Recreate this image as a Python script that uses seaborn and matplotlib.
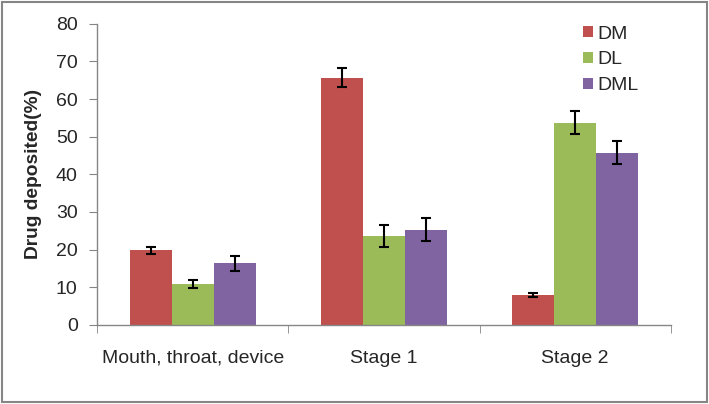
import pandas as pd
import matplotlib
matplotlib.use("Agg")
import matplotlib.pyplot as plt
import seaborn as sns
from matplotlib.patches import Rectangle

stages = ["Mouth, throat, device", "Stage 1", "Stage 2"]
formulations = ["DM", "DL", "DML"]
dm_mean = [19.8, 65.7, 8.0]
dl_mean = [10.9, 23.7, 53.7]
dml_mean = [16.3, 25.3, 45.8]
dm_err = [1.0, 2.6, 0.5]
dl_err = [1.0, 2.9, 3.0]
dml_err = [1.9, 3.1, 3.1]
colors = ["#C0504D", "#9BBB59", "#8064A2"]

rows = []
for f, means, errs in zip(formulations, [dm_mean, dl_mean, dml_mean], [dm_err, dl_err, dml_err]):
    for s, m, e in zip(stages, means, errs):
        rows.append({"stage": s, "formulation": f, "value": m, "err": e})
df = pd.DataFrame(rows)

sns.set_style("white")
plt.rcParams["font.family"] = ["Liberation Sans", "DejaVu Sans"]

fig = plt.figure(figsize=(7.09, 4.04), dpi=100)
ax = fig.add_axes([0.137, 0.196, 0.809, 0.745])

sns.barplot(data=df, x="stage", y="value", hue="formulation", order=stages,
            hue_order=formulations, palette=colors, width=0.66, errorbar=None,
            saturation=1, linewidth=0, ax=ax)

# error bars at bar centres
for cont, f in zip(ax.containers, formulations):
    sub = df[df["formulation"] == f].set_index("stage").loc[stages]
    xs = [b.get_x() + b.get_width() / 2 for b in cont]
    ax.errorbar(xs, sub["value"], yerr=sub["err"], fmt="none", ecolor="black",
                elinewidth=1.5, capsize=3.5, capthick=1.5)

ax.set_ylim(0, 80)
ax.set_xlim(-0.5, 2.5)
ax.set_yticks(range(0, 81, 10))
ax.set_xlabel("")
ax.set_ylabel("Drug deposited(%)", fontsize=13.8, fontweight="bold", labelpad=10)
ax.tick_params(axis="y", labelsize=14, length=6, color="#868686", direction="out", left=True, pad=8)
ax.tick_params(axis="x", labelsize=14, length=0, pad=18)
ax.set_xticks([-0.5, 0.5, 1.5, 2.5], minor=True)
ax.tick_params(axis="x", which="minor", length=6, color="#868686", direction="out", bottom=True)

for side in ["top", "right"]:
    ax.spines[side].set_visible(False)
for side in ["left", "bottom"]:
    ax.spines[side].set_color("#868686")
    ax.spines[side].set_linewidth(1)

leg = ax.legend(loc="upper left", bbox_to_anchor=(0.797, 0.98), bbox_transform=fig.transFigure,
                frameon=False, fontsize=14, handlelength=0.52, handleheight=0.52,
                handletextpad=0.25, labelspacing=0.45)

fig.patches.append(Rectangle((0.003, 0.005), 0.994, 0.99, transform=fig.transFigure,
                             fill=False, edgecolor="#868686", linewidth=1.5))

fig.savefig("out.png", dpi=100)
